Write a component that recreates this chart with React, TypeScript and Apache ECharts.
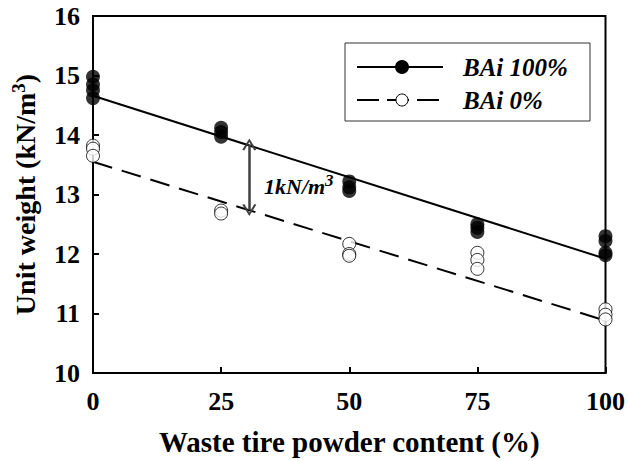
import React, { useEffect, useRef } from "react";
import * as echarts from "echarts";

// Tick values
const xTickValues = [0, 25, 50, 75, 100];
const yRange = [10, 16];

// Measured unit weights (kN/m3) at each waste tire powder content (%)
const bai100Points: number[][] = [
  [0, 14.98], [0, 14.85], [0, 14.75], [0, 14.62],
  [25, 14.12], [25, 14.05], [25, 13.97],
  [50, 13.22], [50, 13.12], [50, 13.06],
  [75, 12.5], [75, 12.44], [75, 12.37],
  [100, 12.3], [100, 12.22], [100, 12.02], [100, 11.98],
];
const bai0Points: number[][] = [
  [0, 13.82], [0, 13.77], [0, 13.65],
  [25, 12.73], [25, 12.68],
  [50, 12.17], [50, 12.0], [50, 11.97],
  [75, 12.02], [75, 11.9], [75, 11.75],
  [100, 11.07], [100, 10.98], [100, 10.9],
];
// Trend lines (endpoints)
const bai100Fit: number[][] = [[0, 14.66], [100, 11.92]];
const bai0Fit: number[][] = [[0, 13.55], [100, 10.88]];
// Difference arrow
const arrowX = 30.5;
const arrowTop = 13.84;
const arrowBottom = 12.74;

const FONT = "'Liberation Serif', 'Times New Roman', serif";

export default function App() {
  const ref = useRef<HTMLDivElement>(null);
  useEffect(() => {
    if (!ref.current) return;
    document.body.style.margin = "0";
    const chart = echarts.init(ref.current, undefined, { renderer: "svg" });
    const chevron = "path://M0,10 L5,0 L10,10 L8.6,10.6 L5,3 L1.4,10.6 Z";
    chart.setOption({
      animation: false,
      backgroundColor: "#fff",
      textStyle: { fontFamily: FONT },
      grid: {
        left: 93, right: 20, top: 16, bottom: 87,
        show: true, borderColor: "#000", borderWidth: 2, backgroundColor: "transparent",
      },
      xAxis: {
        type: "value",
        min: xTickValues[0],
        max: xTickValues[xTickValues.length - 1],
        interval: 25,
        name: "Waste tire powder content (%)",
        nameLocation: "middle",
        nameGap: 54,
        nameTextStyle: { fontSize: 29, fontWeight: "bold", color: "#000", fontFamily: FONT },
        axisLine: { show: true, lineStyle: { color: "#000", width: 2 } },
        axisTick: { show: true, inside: true, length: 6, lineStyle: { color: "#000", width: 2 } },
        axisLabel: { fontSize: 26, fontWeight: "bold", color: "#000", margin: 15, fontFamily: FONT },
        splitLine: { show: false },
      },
      yAxis: {
        type: "value",
        min: yRange[0],
        max: yRange[1],
        interval: 1,
        name: "{a|Unit weight (kN/m}{b|3}{a|)}",
        nameLocation: "middle",
        nameGap: 52,
        nameTextStyle: {
          fontSize: 28, fontWeight: "bold", color: "#000", fontFamily: FONT,
          rich: {
            a: { fontSize: 28, fontWeight: "bold", color: "#000", fontFamily: FONT },
            b: { fontSize: 19, fontWeight: "bold", color: "#000", fontFamily: FONT, padding: [0, 0, 13, 0] },
          },
        },
        axisLine: { show: true, lineStyle: { color: "#000", width: 2 } },
        axisTick: { show: true, inside: true, length: 6, lineStyle: { color: "#000", width: 2 } },
        axisLabel: { fontSize: 26, fontWeight: "bold", color: "#000", margin: 13, fontFamily: FONT },
        splitLine: { show: false },
      },
      series: [
        {
          name: "BAi 100% fit",
          type: "line",
          data: bai100Fit,
          symbol: "none",
          lineStyle: { color: "#000", width: 2 },
          z: 3,
          markLine: {
            silent: true,
            symbol: [chevron, chevron],
            symbolSize: [14, 12],
            label: { show: false },
            lineStyle: { color: "#404040", width: 2.5, type: "solid" },
            data: [[{ coord: [arrowX, arrowTop] }, { coord: [arrowX, arrowBottom] }]],
          },
        },
        {
          name: "BAi 0% fit",
          type: "line",
          data: bai0Fit,
          symbol: "none",
          lineStyle: { color: "#000", width: 2, type: [20, 10] },
          z: 3,
        },
        {
          name: "BAi 0%",
          type: "scatter",
          data: bai0Points,
          symbol: "circle",
          symbolSize: 13,
          itemStyle: { color: "#fff", borderColor: "#000", borderWidth: 1 },
          z: 4,
        },
        {
          name: "BAi 100%",
          type: "scatter",
          data: bai100Points,
          symbol: "circle",
          symbolSize: 14,
          itemStyle: { color: "#000" },
          z: 5,
        },
      ],
      graphic: [
        {
          type: "rect",
          shape: { x: 345, y: 43, width: 245, height: 78 },
          style: { fill: "#fff", stroke: "#333", lineWidth: 1 },
          z: 10,
        },
        {
          type: "line",
          shape: { x1: 357, y1: 67, x2: 443, y2: 67 },
          style: { stroke: "#000", lineWidth: 2 },
          z: 11,
        },
        { type: "circle", shape: { cx: 402, cy: 67, r: 7 }, style: { fill: "#000" }, z: 12 },
        {
          type: "line",
          shape: { x1: 357, y1: 100, x2: 443, y2: 100 },
          style: { stroke: "#000", lineWidth: 2, lineDash: [22, 8] },
          z: 11,
        },
        { type: "circle", shape: { cx: 402, cy: 100, r: 6 }, style: { fill: "#fff", stroke: "#000", lineWidth: 1 }, z: 12 },
        {
          type: "text",
          x: 463, y: 67,
          style: { text: "BAi 100%", font: `italic bold 25px ${FONT}`, fill: "#000", verticalAlign: "middle" },
          z: 12,
        },
        {
          type: "text",
          x: 463, y: 100,
          style: { text: "BAi 0%", font: `italic bold 25px ${FONT}`, fill: "#000", verticalAlign: "middle" },
          z: 12,
        },
        {
          type: "text",
          x: 264, y: 186,
          style: {
            text: "{a|1kN/m}{b|3}",
            verticalAlign: "middle",
            rich: {
              a: { fontFamily: FONT, fontStyle: "italic", fontWeight: "bold", fontSize: 22, color: "#333" },
              b: { fontFamily: FONT, fontStyle: "italic", fontWeight: "bold", fontSize: 17, color: "#333", padding: [0, 0, 12, 0] },
            },
          },
          z: 12,
        },
      ],
    });
    return () => chart.dispose();
  }, []);
  return <div ref={ref} style={{ width: 628, height: 461 }} />;
}
